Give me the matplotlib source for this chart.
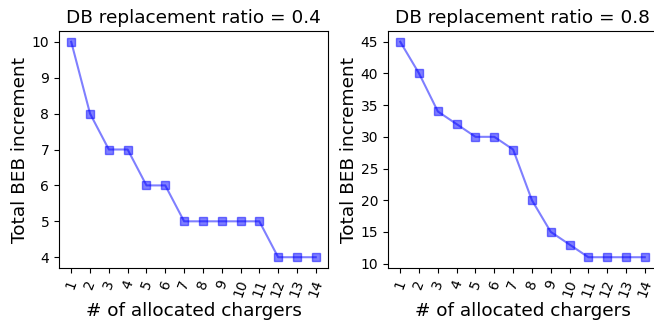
import matplotlib
matplotlib.use("Agg")
import matplotlib.pyplot as plt

# allocated chargers on the x axis
chargers = list(range(1, 15))

# total BEB increment per DB replacement ratio
beb_ratio_04 = [10, 8, 7, 7, 6, 6, 5, 5, 5, 5, 5, 4, 4, 4]
beb_ratio_08 = [45, 40, 34, 32, 30, 30, 28, 20, 15, 13, 11, 11, 11, 11]

titles = ["DB replacement ratio = 0.4", "DB replacement ratio = 0.8"]
yticks = [[4, 5, 6, 7, 8, 9, 10], [10, 15, 20, 25, 30, 35, 40, 45]]

fig = plt.figure(figsize=(6.54, 3.23), dpi=100)
# right panel runs slightly past the right edge, like the cropped original
ax1 = fig.add_axes([0.0902, 0.1703, 0.4113, 0.7337])
ax2 = fig.add_axes([0.5933, 0.1703, 0.4113, 0.7337])

for ax, vals, title, yt in zip([ax1, ax2], [beb_ratio_04, beb_ratio_08], titles, yticks):
    ax.plot(chargers, vals, color="blue", alpha=0.5, marker="s", markersize=5.5)
    ax.set_xticks(chargers)
    ax.set_xticklabels([str(c) for c in chargers], rotation=70, fontsize=10)
    ax.set_yticks(yt)
    ax.tick_params(axis="y", labelsize=10)
    ax.set_title(title, fontsize=13.3)
    ax.set_xlabel("# of allocated chargers", fontsize=13.3, labelpad=2)
    ax.set_ylabel("Total BEB increment", fontsize=13.3, labelpad=2)

fig.savefig("out.png", dpi=100)
